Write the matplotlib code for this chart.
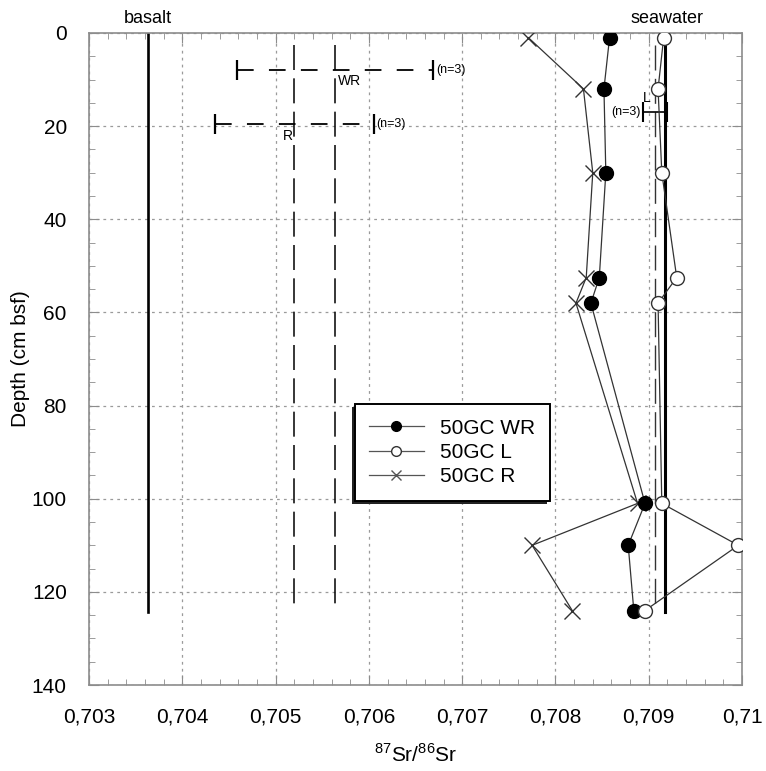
import matplotlib
matplotlib.use("Agg")
import matplotlib.pyplot as plt
from matplotlib.patches import Rectangle
from matplotlib.transforms import IdentityTransform
from matplotlib.ticker import MultipleLocator, FuncFormatter

plt.rcParams['font.family'] = ['Liberation Sans', 'DejaVu Sans']
plt.rcParams['mathtext.fontset'] = 'custom'
plt.rcParams['mathtext.rm'] = 'Liberation Sans'
plt.rcParams['lines.scale_dashes'] = False

# sample depths (cm bsf) and 87Sr/86Sr for the three fractions
depth = [1, 12, 30, 52.5, 58, 101, 110, 124]
sr_wr = [0.70858, 0.70852, 0.70854, 0.70847, 0.70838, 0.70896, 0.70878, 0.70884]
sr_l = [0.70916, 0.70910, 0.70914, 0.70930, 0.70910, 0.70914, 0.70996, 0.70896]
sr_r = [0.70771, 0.70830, 0.70840, 0.70833, 0.70822, 0.70888, 0.70775, 0.70818]

basalt = 0.70363
seawater = 0.70917
line_top, line_bottom = 2.5, 124

# means with error (n=3)
wr_mean, wr_err, wr_depth = 0.70564, 0.00105, 8
r_mean, r_err, r_depth = 0.70520, 0.00085, 19.5
l_mean, l_err, l_depth = 0.70907, 0.00013, 17

fig = plt.figure(figsize=(7.66, 7.71), dpi=100)
ax = fig.add_axes([0.1162, 0.1115, 0.8525, 0.8457])

grey = '#8c8c8c'
ax.grid(True, which='major', linestyle=(0, (2, 3)), color='#9a9a9a', linewidth=0.9)
ax.set_axisbelow(True)

# reference lines
ax.plot([basalt, basalt], [0, 124.3], color='k', lw=1.9)
ax.plot([seawater, seawater], [0, 124.3], color='k', lw=2.2)
for m in (wr_mean, r_mean):
    ax.plot([m, m], [line_top, line_bottom - 0.5], color='k', lw=1.1, linestyle=(0, (18, 6)))
ax.plot([l_mean, l_mean], [line_top, line_bottom], color='#333333', lw=1.0, linestyle=(0, (18, 6)))

# error bars
for m, e, d in ((wr_mean, wr_err, wr_depth), (r_mean, r_err, r_depth)):
    eb = ax.errorbar([m], [d], xerr=[e], fmt='none', ecolor='k', elinewidth=1.3,
                     capsize=7, capthick=1.6)
    eb[2][0].set_linestyle((0, (12, 11)))
ax.errorbar([l_mean], [l_depth], xerr=[l_err], fmt='none', ecolor='k', elinewidth=1.2,
            capsize=7, capthick=1.5)

# data
ax.plot(sr_wr, depth, color='#333333', lw=0.9, marker='o', ms=10,
        mfc='k', mec='k', label='50GC WR', zorder=4)
ax.plot(sr_l, depth, color='#333333', lw=0.9, marker='o', ms=10,
        mfc='white', mec='#333333', label='50GC L', zorder=5)
ax.plot(sr_r, depth, color='#333333', lw=0.9, marker='x', ms=11, mew=1.0,
        label='50GC R', zorder=3)

# annotations
ax.text(wr_mean + wr_err + 0.00003, wr_depth, '(n=3)', fontsize=9, va='center', ha='left')
ax.text(r_mean + r_err + 0.00003, r_depth, '(n=3)', fontsize=9, va='center', ha='left')
ax.text(l_mean - l_err - 0.00003, l_depth, '(n=3)', fontsize=9, va='center', ha='right')
ax.text(wr_mean + 0.00003, wr_depth + 2.2, 'WR', fontsize=10, va='center', ha='left')
ax.text(r_mean - 0.00002, r_depth + 2.6, 'R', fontsize=10, va='center', ha='right')
ax.text(l_mean - 0.00009, l_depth - 3.0, 'L', fontsize=10, va='center', ha='center')
ax.text(basalt, -1.2, 'basalt', fontsize=13, ha='center', va='bottom', clip_on=False)
ax.text(seawater + 0.00003, -1.2, 'seawater', fontsize=13, ha='center', va='bottom', clip_on=False)

ax.set_xlim(0.703, 0.710)
ax.set_ylim(140, 0)
ax.xaxis.set_major_locator(MultipleLocator(0.001))
ax.xaxis.set_minor_locator(MultipleLocator(0.0002))
ax.yaxis.set_major_locator(MultipleLocator(20))
ax.yaxis.set_minor_locator(MultipleLocator(5))
ax.xaxis.set_major_formatter(FuncFormatter(lambda v, p: ('%g' % round(v, 4)).replace('.', ',')))

ax.tick_params(which='both', direction='in', top=True, right=True, color=grey, labelsize=15)
ax.tick_params(axis='x', which='both', pad=16)
ax.tick_params(axis='y', which='both', pad=16)
ax.tick_params(which='major', length=7)
ax.tick_params(which='minor', length=4)
for s in ax.spines.values():
    s.set_color(grey)
    s.set_linewidth(1.2)

ax.set_ylabel('Depth (cm bsf)', fontsize=15, labelpad=1)
ax.set_xlabel(r'$^{87}\mathrm{Sr}/^{86}\mathrm{Sr}$', fontsize=15, labelpad=12)

leg = ax.legend(loc='upper left', bbox_to_anchor=(0.407, 0.431), fontsize=15,
                frameon=True, fancybox=False, shadow=False, borderpad=0.7,
                handlelength=2.6, labelspacing=0.25, borderaxespad=0,
                markerscale=0.7)
leg.get_frame().set_edgecolor('k')
leg.get_frame().set_linewidth(1.4)
leg.get_frame().set_alpha(1)
for h in leg.legend_handles:
    h.set_color('#555555')
leg.legend_handles[0].set_markerfacecolor('k')
leg.legend_handles[0].set_markeredgecolor('k')
leg.legend_handles[1].set_markerfacecolor('white')
leg.set_zorder(6)

# dark offset at the left and bottom of the legend box
fig.canvas.draw()
bb = leg.get_window_extent()
ax.add_patch(Rectangle((bb.x0 - 3, bb.y0 - 3), bb.width, bb.height, transform=IdentityTransform(),
                       facecolor='#222222', edgecolor='none', zorder=5.9, clip_on=False))

fig.savefig('out.png', dpi=100)
